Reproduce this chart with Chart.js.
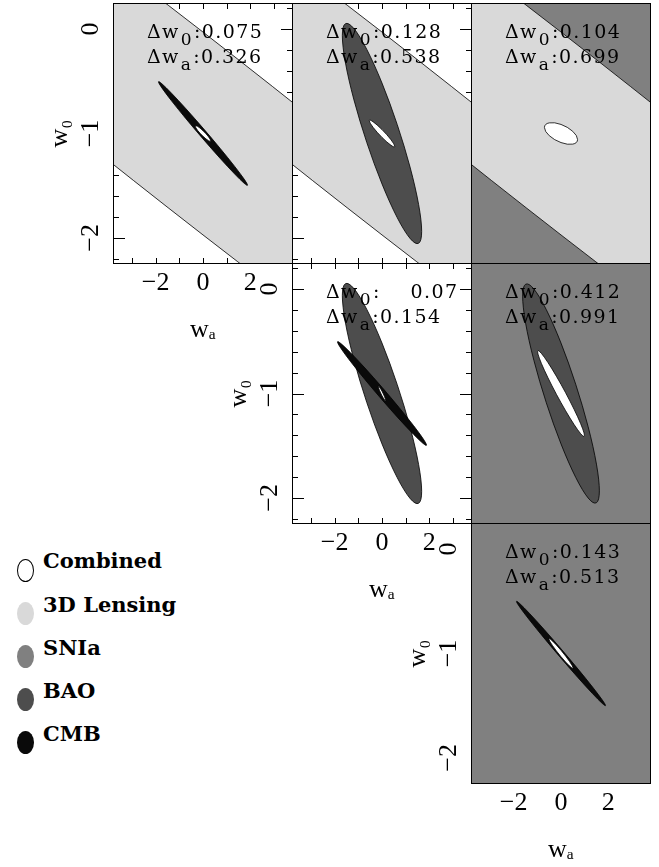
<!DOCTYPE html>
<html>
<head>
<meta charset="utf-8">
<script src="https://cdn.jsdelivr.net/npm/chart.js@4.4.1/dist/chart.umd.min.js"></script>
<style>
  body { margin: 0; background: #fff; }
  #page { position: relative; width: 659px; height: 867px; overflow: hidden; background: #fff; }
  #page canvas { position: absolute; }
  .key { position: absolute; left: 43px; font: bold 21px 'DejaVu Serif', serif; line-height: 21px; color: #000; white-space: pre; }
  .dot { position: absolute; left: 17px; width: 17px; height: 23px; border-radius: 50%; box-sizing: border-box; }
</style>
</head>
<body>
<div id="page"></div>
<script>
// probes and their fill colours (legend order)
const probeNames = ['Combined', '3D Lensing', 'SNIa', 'BAO', 'CMB'];
const probeColors = ['#ffffff', '#d9d9d9', '#808080', '#4d4d4d', '#0a0a0a'];
const fiducial = { wa: 0, w0: -1 };

// axes
const waRange = [-3.8, 3.8];
const w0Range = [-2.25, 0.25];
const waTicks = [-3, -2, -1, 0, 1, 2, 3];
const waLabels = [-2, 0, 2];
const w0Ticks = [0.2, 0, -0.2, -0.4, -0.6, -0.8, -1, -1.2, -1.4, -1.6, -1.8, -2, -2.2];
const w0Labels = [0, -1, -2];

// triangle of panels: [row, col], and whether the panel carries tick labels
const panelCells = [[0, 0], [0, 1], [0, 2], [1, 1], [1, 2], [2, 2]];
const panelLabelled = [true, false, false, true, false, true];
// probes shown in each panel, back to front
const panelProbes = [[1, 4], [1, 3], [2, 1], [3, 4], [2, 3], [2, 4]];
// 1-sigma errors of those probes: [sigma wa, sigma w0, correlation]
const panelErrors = [
  [[30, 5.37, -0.9835], [1.88, 0.497, -0.9946]],
  [[30, 5.37, -0.9835], [1.675, 1.055, -0.889]],
  [[12, 4, -0.6], [30, 5.37, -0.9835]],
  [[1.675, 1.055, -0.889], [1.88, 0.497, -0.9928]],
  [[12, 4, -0.6], [1.62, 1.05, -0.888]],
  [[12, 4, -0.6], [1.88, 0.50, -0.996]]
];
// combined constraint of each panel
const combinedW0 = [0.075, 0.128, 0.104, 0.07, 0.412, 0.143];
const combinedWa = [0.326, 0.538, 0.699, 0.154, 0.991, 0.513];
const combinedRho = [-0.934, -0.956, -0.55, -0.95, -0.977, -0.977];

// page layout (neighbouring panels share their frame line)
const colX = [113, 292, 471];
const rowY = [3, 263, 523];
const W = 180, H = 261;
const L = 80, B = 85, P = 3;

const serif = "'Liberation Serif', 'DejaVu Serif', serif";
const tickFont = { family: serif, size: 26 };

function fmtTick(v) {
  return v < 0 ? '\u2212' + Math.abs(v) : String(v);
}
function fmtErr(v) {
  const s = String(v);
  return s.length < 5 ? s.padStart(8) : s;
}

function drawDelta(ctx, sub, value, x, y) {
  ctx.save();
  ctx.fillStyle = '#000';
  ctx.textAlign = 'left';
  ctx.textBaseline = 'alphabetic';
  ctx.letterSpacing = '1.4px';
  ctx.font = "19px 'DejaVu Serif'";
  ctx.fillText('\u0394w', x, y);
  x += ctx.measureText('\u0394w').width + 1;
  ctx.font = "17px 'DejaVu Serif'";
  ctx.fillText(sub, x, y + 7);
  x += ctx.measureText(sub).width + 1;
  ctx.font = "19px 'DejaVu Serif'";
  ctx.fillText(':' + value, x, y);
  ctx.restore();
}

const fisherPlugin = {
  id: 'fisher',
  beforeDatasetsDraw(chart) {
    const { ctx, chartArea: a, scales: { x, y } } = chart;
    ctx.save();
    ctx.strokeStyle = '#000';
    ctx.lineWidth = 1;
    ctx.beginPath();
    waTicks.forEach(v => {
      const px = Math.round(x.getPixelForValue(v)) + 0.5;
      ctx.moveTo(px, a.top); ctx.lineTo(px, a.top + 6);
      ctx.moveTo(px, a.bottom); ctx.lineTo(px, a.bottom - 6);
    });
    w0Ticks.forEach(v => {
      const len = w0Labels.includes(v) ? 12 : 6;
      const py = Math.round(y.getPixelForValue(v)) + 0.5;
      ctx.moveTo(a.left, py); ctx.lineTo(a.left + len, py);
      ctx.moveTo(a.right, py); ctx.lineTo(a.right - len, py);
    });
    ctx.stroke();
    ctx.restore();
  },
  afterDatasetsDraw(chart, args, opts) {
    const { ctx, chartArea: a, scales: { x, y } } = chart;
    ctx.save();
    ctx.beginPath();
    ctx.rect(a.left, a.top, a.width, a.height);
    ctx.clip();
    chart.data.datasets.forEach(ds => {
      const [sx, sy, rho] = ds.errors;
      const c = ds.data[0];
      const cx = x.getPixelForValue(c.x), cy = y.getPixelForValue(c.y);
      // conjugate semi-diameters of the 1-sigma ellipse, mapped through the scales
      const ux = x.getPixelForValue(c.x + sx) - cx;
      const uy = y.getPixelForValue(c.y + rho * sy) - cy;
      const vy = y.getPixelForValue(c.y + sy * Math.sqrt(1 - rho * rho)) - cy;
      ctx.save();
      ctx.beginPath();
      ctx.transform(ux, uy, 0, vy, cx, cy);
      ctx.arc(0, 0, 1, 0, 2 * Math.PI);
      ctx.restore();
      ctx.fillStyle = ds.backgroundColor;
      ctx.fill();
      ctx.lineWidth = 0.8;
      ctx.strokeStyle = '#000';
      ctx.stroke();
    });
    ctx.restore();

    ctx.save();
    ctx.strokeStyle = '#000';
    ctx.lineWidth = 1;
    ctx.strokeRect(a.left + 0.5, a.top + 0.5, a.width - 1, a.height - 1);
    ctx.restore();

    drawDelta(ctx, '0', fmtErr(opts.w0), a.left + 34, a.top + 35);
    drawDelta(ctx, 'a', fmtErr(opts.wa), a.left + 34, a.top + 60);
  }
};

function xAxis(labelled) {
  return {
    type: 'linear', min: waRange[0], max: waRange[1], display: labelled,
    grid: { display: false, drawTicks: false }, border: { display: false },
    afterBuildTicks: s => { s.ticks = waLabels.map(v => ({ value: v })); },
    afterFit: s => {
      if (labelled) s.height = B;
      s.paddingLeft = 0; s.paddingRight = 0;
    },
    ticks: { autoSkip: false, maxRotation: 0, padding: 4, color: '#000', font: tickFont, callback: v => fmtTick(v) },
    title: { display: true, text: 'w\u2090', color: '#000', font: tickFont, padding: { top: 0, bottom: 3 } }
  };
}
function yAxis(labelled) {
  return {
    type: 'linear', min: w0Range[0], max: w0Range[1], display: labelled,
    grid: { display: false, drawTicks: false }, border: { display: false },
    afterBuildTicks: s => { s.ticks = w0Labels.map(v => ({ value: v })); },
    afterFit: s => {
      if (labelled) s.width = L;
      s.paddingTop = 0; s.paddingBottom = 0;
    },
    ticks: { autoSkip: false, minRotation: 90, maxRotation: 90, crossAlign: 'center', padding: 8, color: '#000', font: tickFont, callback: v => fmtTick(v) },
    title: { display: true, text: 'w\u2080', color: '#000', font: tickFont, padding: { top: 12, bottom: 0 } }
  };
}

const page = document.getElementById('page');

panelCells.forEach(([r, c], i) => {
  const lab = panelLabelled[i];
  const canvas = document.createElement('canvas');
  const left = colX[c] - P - (lab ? L : 0);
  const top = rowY[r] - P;
  canvas.width = W + 2 * P + (lab ? L : 0);
  canvas.height = H + 2 * P + (lab ? B : 0);
  canvas.style.left = left + 'px';
  canvas.style.top = top + 'px';
  page.appendChild(canvas);

  const datasets = panelProbes[i].map((p, k) => ({
    label: probeNames[p],
    data: [{ x: fiducial.wa, y: fiducial.w0 }],
    errors: panelErrors[i][k],
    backgroundColor: probeColors[p],
    pointRadius: 0
  }));
  datasets.push({
    label: probeNames[0],
    data: [{ x: fiducial.wa, y: fiducial.w0 }],
    errors: [combinedWa[i], combinedW0[i], combinedRho[i]],
    backgroundColor: probeColors[0],
    pointRadius: 0
  });

  new Chart(canvas, {
    type: 'scatter',
    data: { datasets },
    options: {
      responsive: false,
      animation: false,
      events: [],
      layout: { padding: P },
      plugins: {
        legend: { display: false },
        tooltip: { enabled: false },
        fisher: { w0: combinedW0[i], wa: combinedWa[i] }
      },
      scales: { x: xAxis(lab), y: yAxis(lab) }
    },
    plugins: [fisherPlugin]
  });
});

// legend
probeNames.forEach((name, i) => {
  const cy = 570 + 43 * i;
  const dot = document.createElement('div');
  dot.className = 'dot';
  dot.style.top = (cy - 11.5) + 'px';
  dot.style.background = probeColors[i];
  if (i === 0) dot.style.border = '1.5px solid #000';
  page.appendChild(dot);
  const key = document.createElement('div');
  key.className = 'key';
  key.textContent = name;
  key.style.top = (cy - (i === 0 ? 2.5 : 1) - 17.8) + 'px';
  page.appendChild(key);
});
</script>
</body>
</html>
